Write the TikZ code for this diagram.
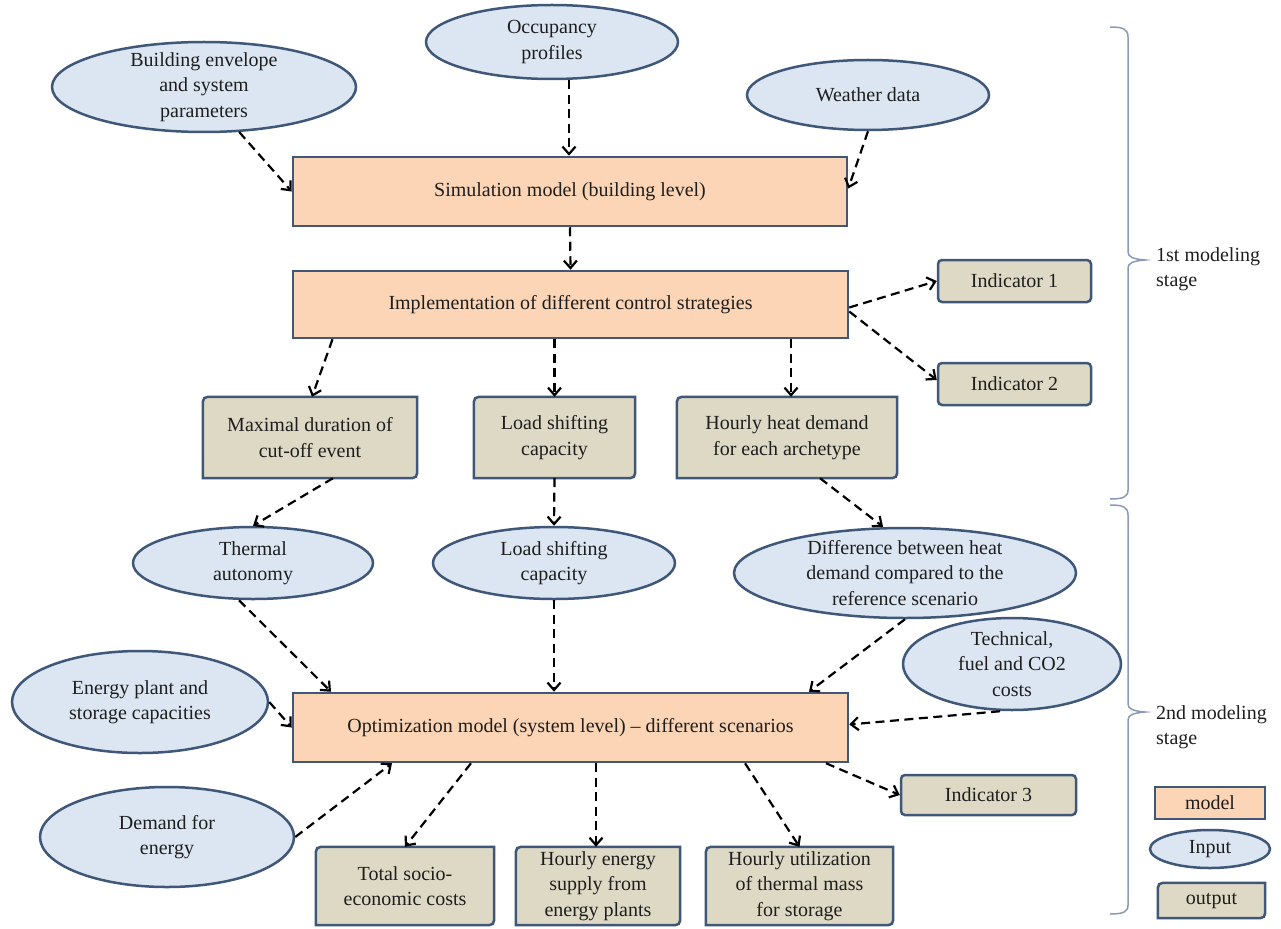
\documentclass[tikz,border=0pt]{standalone}
\usepackage{fontspec}
\setmainfont{Liberation Serif}
\usetikzlibrary{arrows.meta,backgrounds,shapes.geometric}
\definecolor{modelfill}{HTML}{FBD5B5}
\definecolor{inpfill}{HTML}{DCE6F2}
\definecolor{outfill}{HTML}{DDD9C4}
\definecolor{edgec}{HTML}{3F5778}
\definecolor{bracec}{HTML}{8A9BB3}
\definecolor{txtc}{HTML}{1E1E1E}
\tikzset{
 lbl/.style={font=\fontsize{20pt}{25.5pt}\selectfont, text=txtc, align=center, inner sep=0pt},
 modelbox/.style={lbl, draw=edgec, line width=2.5pt, fill=modelfill},
 inpell/.style={ellipse, draw=edgec, line width=2.5pt, fill=inpfill, inner sep=0pt},
 indbox/.style={lbl, draw=edgec, line width=2.5pt, fill=outfill, rounded corners=4pt},
 outshape/.style={draw=edgec, line width=2.5pt, fill=outfill},
 arr/.style={draw=black, line width=2.2pt, dash pattern=on 9pt off 5.5pt, -{Straight Barb[length=7.5pt,width=13pt]}},
 bracel/.style={draw=bracec, line width=1.5pt},
}
\newcommand{\diagbox}[1]{\path[outshape] (#1.south west) -- ([yshift=-11pt]#1.north west) .. controls (#1.north west) .. ([xshift=11pt]#1.north west) -- (#1.north east) -- ([yshift=11pt]#1.south east) .. controls (#1.south east) .. ([xshift=-11pt]#1.south east) -- cycle;}
\begin{document}
\begin{tikzpicture}[x=1pt,y=-1pt]
\useasboundingbox (0,0) rectangle (1281,928);
% model boxes
\node[modelbox, minimum width=554pt, minimum height=69pt] (sim) at (570,191.5) {Simulation model (building level)};
\node[modelbox, minimum width=555pt, minimum height=67pt] (impl) at (570.5,304.5) {Implementation of different control strategies};
\node[modelbox, minimum width=555pt, minimum height=69pt] (opt) at (570.5,727.5) {Optimization model (system level) -- different scenarios};
% input ellipses
\node[inpell, minimum width=304pt, minimum height=90pt] (bldg) at (204,87) {};
\node[lbl] (bldg-t) at (bldg) {Building envelope\\and system\\parameters};
\node[inpell, minimum width=252pt, minimum height=74pt] (occ) at (552,42) {};
\node[lbl] (occ-t) at (occ) {Occupancy\\profiles};
\node[inpell, minimum width=242pt, minimum height=70pt] (weather) at (868,95) {};
\node[lbl] (weather-t) at (weather) {Weather data};
\node[inpell, minimum width=240pt, minimum height=72pt] (thermal) at (253,563) {};
\node[lbl] (thermal-t) at (thermal) {Thermal\\autonomy};
\node[inpell, minimum width=242pt, minimum height=72pt] (lsin) at (554,563) {};
\node[lbl] (lsin-t) at (lsin) {Load shifting\\capacity};
\node[inpell, minimum width=342pt, minimum height=90pt] (diff) at (905,573) {};
\node[lbl] (diff-t) at (diff) {Difference between heat\\demand compared to the\\reference scenario};
\node[inpell, minimum width=218pt, minimum height=92pt] (tech) at (1012,664) {};
\node[lbl] (tech-t) at (tech) {Technical,\\fuel and CO2\\costs};
\node[inpell, minimum width=256pt, minimum height=102pt] (energy) at (140,702) {};
\node[lbl] (energy-t) at (energy) {Energy plant and\\storage capacities};
\node[inpell, minimum width=254pt, minimum height=100pt] (demand) at (167,837) {};
\node[lbl] (demand-t) at (demand) {Demand for\\energy};
% output boxes
\node[lbl, minimum width=214pt, minimum height=81pt] (maxd) at (310,437.5) {Maximal duration of\\cut-off event};
\node[lbl, minimum width=161pt, minimum height=81pt] (lsout) at (554.5,437.5) {Load shifting\\capacity};
\node[lbl, minimum width=220pt, minimum height=81pt] (hh) at (787,437.5) {Hourly heat demand\\for each archetype};
\node[lbl, minimum width=178pt, minimum height=78pt] (total) at (405,886) {Total socio-\\economic costs};
\node[lbl, minimum width=164pt, minimum height=78pt] (he) at (598,886) {Hourly energy\\supply from\\energy plants};
\node[lbl, minimum width=187pt, minimum height=78pt] (hu) at (799.5,886) {Hourly utilization\\of thermal mass\\for storage};
% indicators
\node[indbox, minimum width=153pt, minimum height=42pt] (ind1) at (1014.5,281) {Indicator 1};
\node[indbox, minimum width=153pt, minimum height=42pt] (ind2) at (1014.5,384) {Indicator 2};
\node[indbox, minimum width=175pt, minimum height=40pt] (ind3) at (988.5,795) {Indicator 3};
% legend
\node[modelbox, minimum width=110pt, minimum height=32pt] (lmodel) at (1210,803) {model};
\node[inpell, minimum width=120pt, minimum height=38pt] (linput) at (1210,849) {};
\node[lbl] (linput-t) at (linput) {Input};
\node[lbl, minimum width=107pt, minimum height=35pt] (loutput) at (1211.5,900.5) {output};
% stage labels
\node[lbl, align=left, anchor=west] (st1) at (1156,269) {1st modeling\\stage};
\node[lbl, align=left, anchor=west] (st2) at (1156,727) {2nd modeling\\stage};
\begin{pgfonlayer}{background}
\fill[white] (0,0) rectangle (1281,928);
\diagbox{maxd}
\diagbox{lsout}
\diagbox{hh}
\diagbox{total}
\diagbox{he}
\diagbox{hu}
\diagbox{loutput}
\end{pgfonlayer}
% braces
\draw[bracel] (1110,27) .. controls (1123,27) and (1128,29) .. (1128,37) -- (1128,252) .. controls (1128,257) and (1133,259) .. (1145,260) .. controls (1133,261) and (1128,263) .. (1128,268) -- (1128,490) .. controls (1128,497) and (1123,499) .. (1110,499);
\draw[bracel] (1110,505) .. controls (1123,505) and (1128,507) .. (1128,515) -- (1128,704) .. controls (1128,709) and (1133,711) .. (1145,712) .. controls (1133,713) and (1128,715) .. (1128,720) -- (1128,905) .. controls (1128,912) and (1123,914) .. (1110,914);
% connectors
\draw[arr] (bldg.-52) -- (sim.west);
\draw[arr] ([xshift=17pt]occ.south) -- ([xshift=-1pt]sim.north);
\draw[arr] (weather.south) -- ([yshift=3pt]sim.east);
\draw[arr] (sim.south) -- (impl.north);
\draw[arr] ([yshift=-3pt]impl.east) -- (ind1.west);
\draw[arr] ([yshift=-7pt]impl.east) -- ([yshift=4pt]ind2.west);
\draw[arr] ([xshift=-238pt]impl.south) -- ([xshift=2pt]maxd.north);
\draw[arr] ([xshift=-16pt]impl.south) -- (lsout.north);
\draw[arr] ([xshift=220.5pt]impl.south) -- ([xshift=4pt]hh.north);
\draw[arr] ([xshift=23pt]maxd.south) -- (thermal.north);
\draw[arr] (lsout.south) -- (lsin.north);
\draw[arr] ([xshift=33pt]hh.south) -- ([xshift=-22pt]diff.north);
\draw[arr] ([xshift=-14pt]thermal.south) -- ([xshift=-239.5pt]opt.north);
\draw[arr] (lsin.south) -- ([xshift=-16.5pt]opt.north);
\draw[arr] (diff.south) -- ([xshift=238.5pt]opt.north);
\draw[arr] ([xshift=-12pt]tech.south) -- ([yshift=3pt]opt.east);
\draw[arr] (energy.east) -- (opt.west);
\draw[arr] (demand.east) -- ([xshift=-178.5pt]opt.south);
\draw[arr] ([xshift=-99.5pt]opt.south) -- (total.north);
\draw[arr] ([xshift=25.5pt]opt.south) -- ([xshift=-2pt]he.north);
\draw[arr] ([xshift=174.5pt]opt.south) -- (hu.north);
\draw[arr] ([xshift=255.5pt]opt.south) -- (ind3.west);
\end{tikzpicture}
\end{document}
